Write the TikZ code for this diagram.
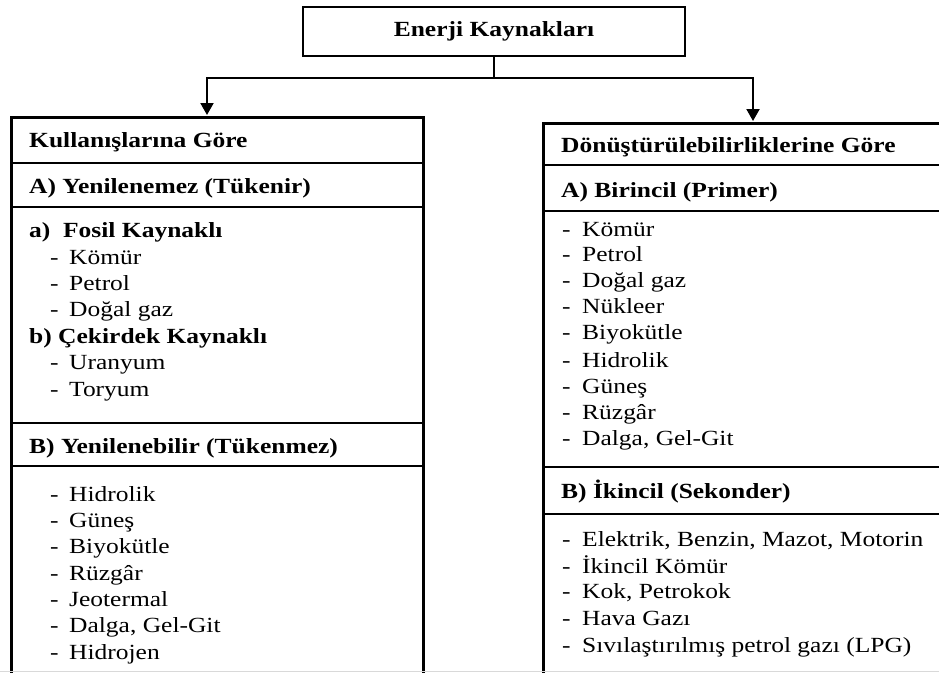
\documentclass[tikz,border=0pt]{standalone}
\usepackage{fontspec}
\setmainfont{Liberation Serif}[FakeStretch=1.18]
\usetikzlibrary{arrows.meta}
\tikzset{
  txt/.style={inner sep=0pt, anchor=base west, font=\fontsize{21.6}{26}\selectfont},
  hd/.style={inner sep=0pt, anchor=base west, font=\fontsize{21.6}{26}\selectfont\bfseries},
  outerbox/.style={draw, line width=3pt, inner sep=0pt, anchor=north west},
  topbox/.style={draw, line width=2.2pt, inner sep=0pt, font=\fontsize{21.6}{26}\selectfont\bfseries},
  divline/.style={line width=2.5pt},
  conn/.style={line width=2pt, -{Triangle[width=13pt,length=12pt]}},
}
\newcommand\dl[1]{\makebox[19pt][l]{-}#1}
\newcommand\dr[1]{\makebox[20pt][l]{-}#1}
\begin{document}
\begin{tikzpicture}[x=1pt,y=-1pt]
\clip (0,0) rectangle (939,672);
\fill[white] (0,0) rectangle (939,672);
% top box
\node[topbox, minimum width=382pt, minimum height=49pt] (T) at (494,31.5) {Enerji Kaynakları};
% outer boxes
\node[outerbox, minimum width=412pt, minimum height=600pt] (L) at (10,116) {};
\node[outerbox, minimum width=420pt, minimum height=600pt] (R) at (542,122) {};
% connectors
\coordinate (la) at (207,115);
\coordinate (ra) at (753,121);
\draw[conn] (T.south) -- ++(0,21) -| (la);
\draw[conn] (T.south) -- ++(0,21) -| (ra);
% dividers left
\draw[divline] (10,163) -- (422,163);
\draw[divline] (10,207) -- (422,207);
\draw[divline] (10,423) -- (422,423);
\draw[divline] (10,466) -- (422,466);
% dividers right
\draw[divline] (542,165) -- (962,165);
\draw[divline] (542,211) -- (962,211);
\draw[divline] (542,467) -- (962,467);
\draw[divline] (542,514) -- (962,514);
% left texts
\node[hd] (KG) at (29,147) {Kullanışlarına Göre};
\node[hd] (LA) at (29,193) {A) Yenilenemez (Tükenir)};
\node[hd] (La) at (29,237) {\makebox[34pt][l]{a)}Fosil Kaynaklı};
\node[txt] (l1) at (50,264) {\dl{Kömür}};
\node[txt] (l2) at (50,290) {\dl{Petrol}};
\node[txt] (l3) at (50,316) {\dl{Doğal gaz}};
\node[hd] (Lb) at (29,343) {b) Çekirdek Kaynaklı};
\node[txt] (l4) at (50,369) {\dl{Uranyum}};
\node[txt] (l5) at (50,396) {\dl{Toryum}};
\node[hd] (LB) at (29,453) {B) Yenilenebilir (Tükenmez)};
\node[txt] (l6) at (50,501) {\dl{Hidrolik}};
\node[txt] (l7) at (50,527) {\dl{Güneş}};
\node[txt] (l8) at (50,553) {\dl{Biyokütle}};
\node[txt] (l9) at (50,580) {\dl{Rüzgâr}};
\node[txt] (l10) at (50,606) {\dl{Jeotermal}};
\node[txt] (l11) at (50,632) {\dl{Dalga, Gel-Git}};
\node[txt] (l12) at (50,659) {\dl{Hidrojen}};
% right texts
\node[hd] (RG) at (561,152) {Dönüştürülebilirliklerine Göre};
\node[hd] (RA) at (561,197) {A) Birincil (Primer)};
\node[txt] (r1) at (562,236) {\dr{Kömür}};
\node[txt] (r2) at (562,261) {\dr{Petrol}};
\node[txt] (r3) at (562,287) {\dr{Doğal gaz}};
\node[txt] (r4) at (562,313) {\dr{Nükleer}};
\node[txt] (r5) at (562,339) {\dr{Biyokütle}};
\node[txt] (r6) at (562,367) {\dr{Hidrolik}};
\node[txt] (r7) at (562,393) {\dr{Güneş}};
\node[txt] (r8) at (562,419) {\dr{Rüzgâr}};
\node[txt] (r9) at (562,445) {\dr{Dalga, Gel-Git}};
\node[hd] (RB) at (561,498) {B) İkincil (Sekonder)};
\node[txt] (r10) at (562,546) {\dr{Elektrik, Benzin, Mazot, Motorin}};
\node[txt] (r11) at (562,573) {\dr{İkincil Kömür}};
\node[txt] (r12) at (562,598) {\dr{Kok, Petrokok}};
\node[txt] (r13) at (562,625) {\dr{Hava Gazı}};
\node[txt] (r14) at (562,652) {\dr{Sıvılaştırılmış petrol gazı (LPG)}};
% faint bottom edge
\draw[black!15, line width=1pt] (0,671) -- (939,671);
\end{tikzpicture}
\end{document}
